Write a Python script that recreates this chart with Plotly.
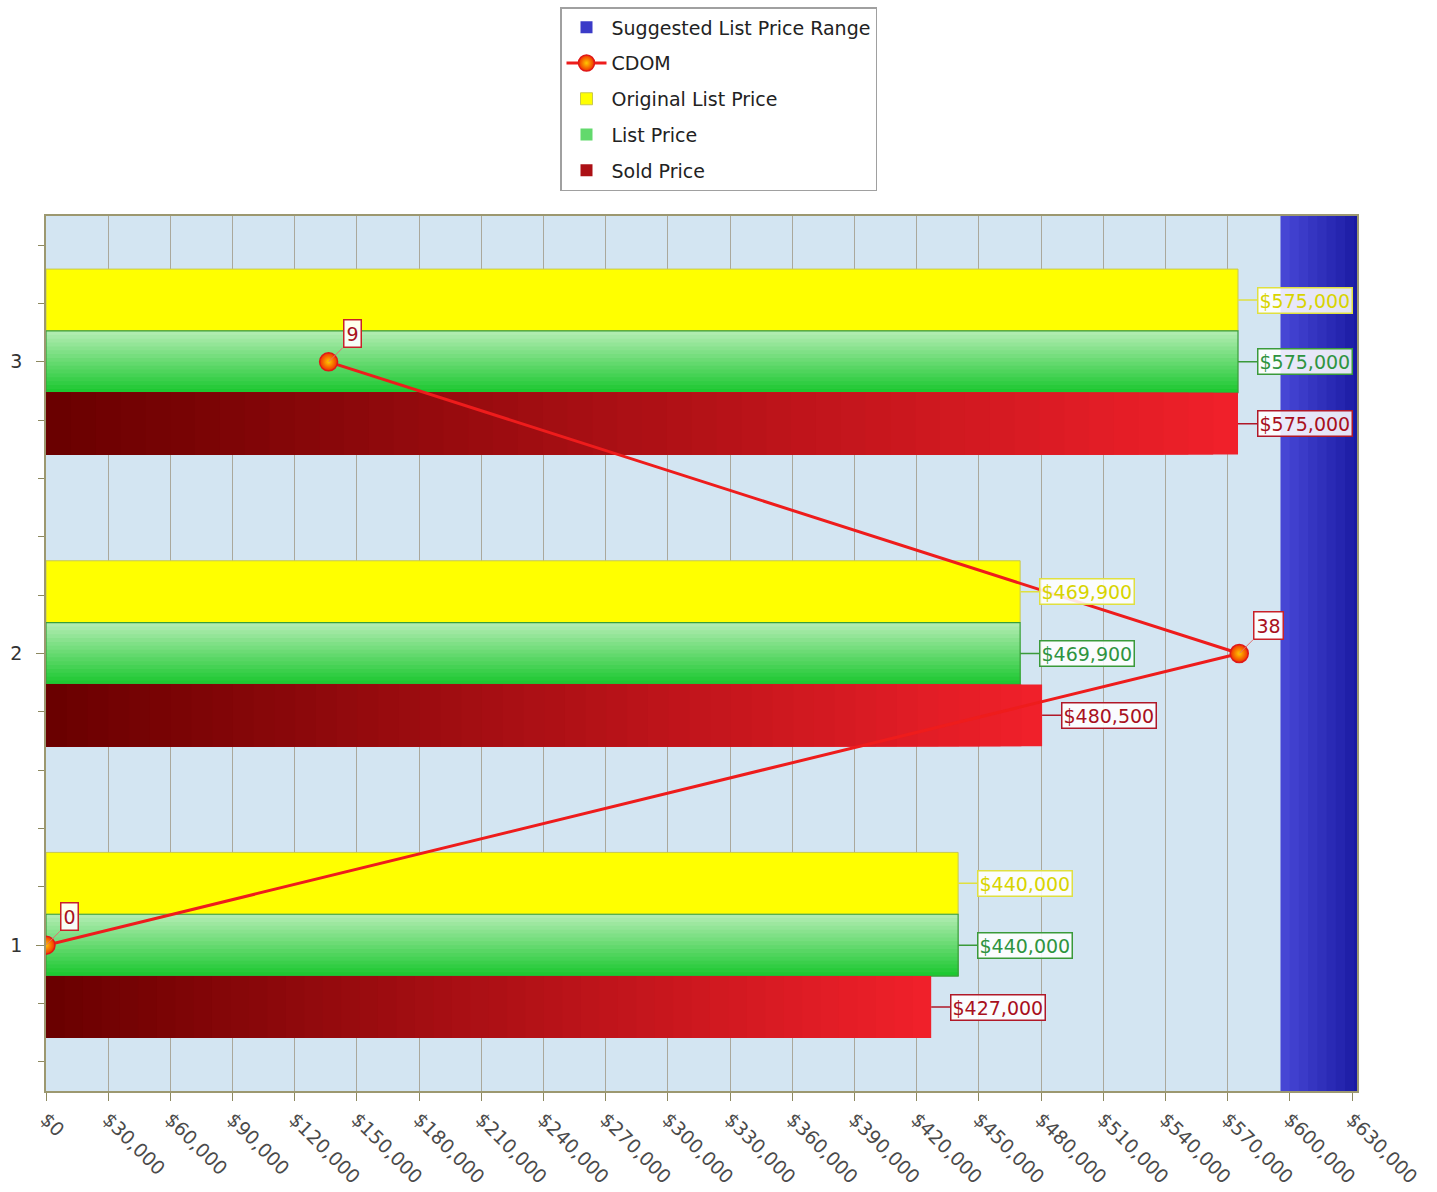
import plotly.graph_objects as go

# ---------------- data ----------------
categories = [1, 2, 3]
original_list_price = [440000, 469900, 575000]
list_price = [440000, 469900, 575000]
sold_price = [427000, 480500, 575000]
cdom = [0, 38, 9]
suggested_range_low = [595500]
suggested_range_high = [640000]
x_tick_values = list(range(0, 630001, 30000))
x_tick_labels = ["$" + format(v, ",") for v in x_tick_values]
y_tick_values = [1, 2, 3]
y_tick_labels = ["1", "2", "3"]

FONT = "DejaVu Sans"
BAR_W = 0.212


def lerp_color(c1, c2, t):
    a = [int(c1[i:i + 2], 16) for i in (1, 3, 5)]
    b = [int(c2[i:i + 2], 16) for i in (1, 3, 5)]
    return "rgb(%d,%d,%d)" % tuple(round(a[i] + (b[i] - a[i]) * t) for i in range(3))


fig = go.Figure()

# Suggested list price range band (horizontal gradient, light left -> dark right)
NB = 10
for k in range(NB):
    t = k / (NB - 1)
    fig.add_trace(go.Bar(
        name="Suggested List Price Range", y=[0.5],
        x=[(h - l) * (NB - k) / NB for l, h in zip(suggested_range_low, suggested_range_high)],
        base=[l + (h - l) * k / NB for l, h in zip(suggested_range_low, suggested_range_high)],
        orientation="h", width=[1], yaxis="y2",
        marker=dict(color=lerp_color("#4646d4", "#14149c", t), line=dict(width=0)),
        showlegend=(k == 2), legendrank=1, legendgroup="g1", hoverinfo="skip"))

# Original list price (yellow)
fig.add_trace(go.Bar(
    name="Original List Price", y=categories, x=original_list_price, orientation="h",
    width=BAR_W, offset=BAR_W / 2,
    marker=dict(color="#ffff00", line=dict(color="#c8c850", width=1)),
    legendrank=3, legendgroup="g3"))

# List price (green, vertical gradient)
NG = 16
for k in range(NG):
    t = k / (NG - 1)
    fig.add_trace(go.Bar(
        name="List Price", y=categories, x=list_price, orientation="h",
        width=BAR_W * (1 - k / NG), offset=-BAR_W / 2,
        marker=dict(color=lerp_color("#b0ecb0", "#1ec832", t), line=dict(width=0)),
        showlegend=(k == NG // 2), legendrank=4, legendgroup="g4", hoverinfo="skip"))
fig.add_trace(go.Bar(
    y=categories, x=list_price, orientation="h", width=BAR_W, offset=-BAR_W / 2,
    marker=dict(color="rgba(0,0,0,0)", line=dict(color="#3a9e3a", width=1.2)),
    showlegend=False, legendgroup="g4", hoverinfo="skip"))

# Sold price (red, horizontal gradient)
NR = 48
for k in range(NR):
    t = k / (NR - 1)
    fig.add_trace(go.Bar(
        name="Sold Price", y=categories, x=[v * (NR - k) / NR for v in sold_price], orientation="h",
        width=BAR_W, offset=-1.5 * BAR_W,
        marker=dict(color=lerp_color("#f0202a", "#6a0000", t), line=dict(width=0)),
        showlegend=(k == NR // 2), legendrank=5, legendgroup="g5", hoverinfo="skip"))

# CDOM line
fig.add_trace(go.Scatter(
    name="CDOM", x=cdom, y=categories, xaxis="x2", mode="lines+markers",
    line=dict(color="#ee1c1c", width=3),
    marker=dict(size=18, color="#f03000", line=dict(color="#e01818", width=1.5),
                gradient=dict(type="radial", color="#ffc800")),
    legendrank=2, legendgroup="g2"))

annotations = []
label_styles = [
    (original_list_price, BAR_W, "#d8d400", "#e0e040"),
    (list_price, 0.0, "#2e9440", "#3a9a3a"),
    (sold_price, -BAR_W, "#a81020", "#b01828"),
]
for values, dy, tcolor, bcolor in label_styles:
    for c, v in zip(categories, values):
        annotations.append(dict(
            x=v, y=c + dy, xref="x", yref="y", text="$" + format(v, ","),
            font=dict(family=FONT, size=19, color=tcolor),
            bgcolor="rgba(255,255,255,0.88)", bordercolor=bcolor, borderwidth=1.5, borderpad=1,
            showarrow=True, arrowhead=0, arrowwidth=1.5, arrowcolor=bcolor,
            ax=19, ay=0, xanchor="left", yanchor="middle"))
for c, d in zip(categories, cdom):
    annotations.append(dict(
        x=d, y=c, xref="x2", yref="y", text=str(d),
        font=dict(family=FONT, size=19, color="#a81020"),
        bgcolor="rgba(255,255,255,0.92)", bordercolor="#c82028", borderwidth=1.5, borderpad=2,
        showarrow=True, arrowhead=0, arrowwidth=1, arrowcolor="#e07070",
        ax=14, ay=-14, xanchor="left", yanchor="bottom"))

fig.update_layout(
    width=1437, height=1192,
    margin=dict(l=46, r=80, t=216, b=101, autoexpand=False),
    barmode="overlay",
    paper_bgcolor="white", plot_bgcolor="#d3e5f2",
    font=dict(family=FONT, size=19, color="#333333"),
    xaxis=dict(range=[0, 632400], tickmode="array", tickvals=x_tick_values, ticktext=x_tick_labels,
               tickangle=45, tickfont=dict(size=19, color="#4a4a4a"),
               showgrid=True, gridcolor="#aaa89c", gridwidth=1,
               showline=True, linecolor="#9c9870", linewidth=1.5, mirror=True,
               ticks="outside", ticklen=8, tickcolor="#8c8860", zeroline=False, automargin=False),
    xaxis2=dict(overlaying="x", range=[0, 41.75], visible=False),
    yaxis=dict(range=[0.5, 3.5], tickmode="array", tickvals=y_tick_values, ticktext=y_tick_labels,
               tickfont=dict(size=19, color="#333333"), showgrid=False, zeroline=False,
               showline=True, linecolor="#9c9870", linewidth=1.5, mirror=True,
               ticks="outside", ticklen=8, tickcolor="#8c8860", ticklabelstandoff=10, automargin=False,
               minor=dict(tickmode="linear", tick0=1, dtick=0.2, ticks="outside", ticklen=6,
                          tickcolor="#8c8860", showgrid=False)),
    yaxis2=dict(overlaying="y", range=[0, 1], visible=False),
    legend=dict(xref="container", yref="container", x=0.5, y=1 - 7 / 1192,
                xanchor="center", yanchor="top", traceorder="grouped",
                bgcolor="white", bordercolor="#a0a0a0", borderwidth=1.5, itemwidth=40,
                font=dict(family=FONT, size=19, color="#222222"), tracegroupgap=8),
    annotations=annotations,
    showlegend=True,
)

fig.write_html("out.html")
